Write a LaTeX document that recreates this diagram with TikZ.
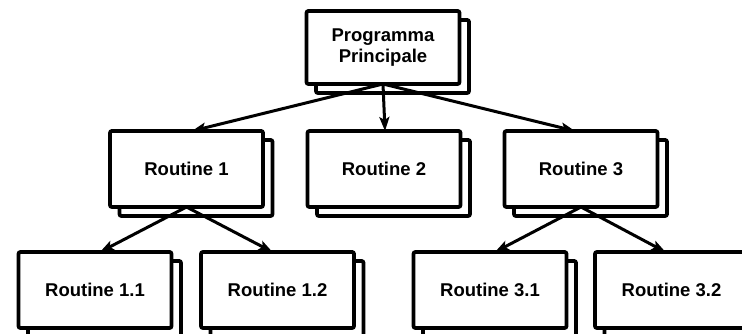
\documentclass[tikz,border=0pt]{standalone}
\usepackage{fontspec}
\setmainfont{Liberation Sans}
\usetikzlibrary{arrows.meta}

\begin{document}
\begin{tikzpicture}[x=1pt,y=1pt,
  routinebox/.style={draw, line width=3.8pt, fill=white, rounded corners=2pt,
    minimum width=153pt, minimum height=76pt, inner sep=0pt, outer sep=0pt,
    align=center, font=\fontsize{18.5}{21}\selectfont\bfseries},
  backsheet/.style={draw, line width=3.8pt, fill=white, rounded corners=2pt,
    minimum width=153pt, minimum height=76pt, inner sep=0pt, outer sep=0pt},
  link/.style={line width=3pt, -{Stealth[length=14pt,width=10pt,inset=3pt]}}
]
\clip (0,0) rectangle (742,334);
\useasboundingbox (0,0) rectangle (742,334);

% stacked sheets behind every box
\foreach \name/\px/\py/\h in {m/383/286.5/73, a/186.5/165/76, b/384/165/76, c/581/165/76,
                              d/95/44/76, e/277.5/44/76, f/490/44/76, g/671.5/44/76}{
  \node[backsheet, minimum height=\h pt] (sheet-\name) at (\px+9.5,\py-9) {};
}

% boxes
\node[routinebox, minimum height=73pt] (main) at (383,286.5) {Programma\\Principale};
\node[routinebox] (r1)  at (186.5,165) {Routine 1};
\node[routinebox] (r2)  at (384,165)   {Routine 2};
\node[routinebox] (r3)  at (581,165)   {Routine 3};
\node[routinebox] (r11) at (95,44)     {Routine 1.1};
\node[routinebox] (r12) at (277.5,44)  {Routine 1.2};
\node[routinebox] (r31) at (490,44)    {Routine 3.1};
\node[routinebox] (r32) at (671.5,44)  {Routine 3.2};

% call links
\draw[link] (main.south) -- ([xshift=5.5pt]r1.north);
\draw[link] (main.south) -- ([xshift=1pt]r2.north);
\draw[link] (main.south) -- ([xshift=-6pt]r3.north);
\draw[link] (r1.south) -- ([xshift=5pt]r11.north);
\draw[link] (r1.south) -- ([xshift=-5pt]r12.north);
\draw[link] (r3.south) -- ([xshift=5pt]r31.north);
\draw[link] (r3.south) -- ([xshift=-6pt]r32.north);
\end{tikzpicture}
\end{document}
